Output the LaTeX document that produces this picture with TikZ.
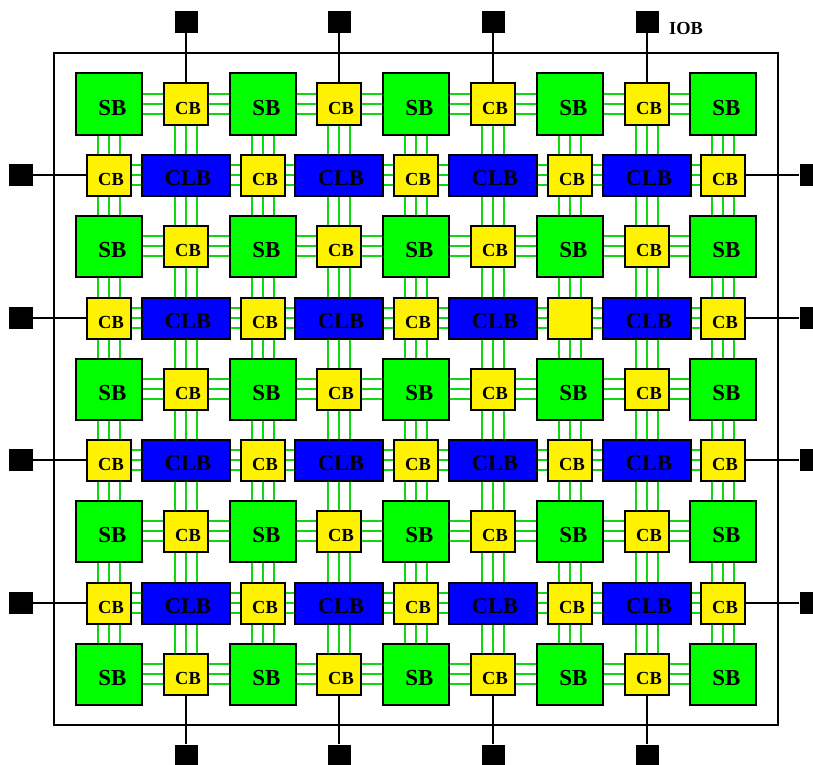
\documentclass[tikz,border=0pt]{standalone}
\usepackage{fontspec}
\setmainfont{Liberation Serif}
\definecolor{wiregreen}{RGB}{15,215,15}
\tikzset{
  box/.style={draw=black,line width=2bp,inner sep=0pt,anchor=center},
  sbbox/.style={box,fill=green,minimum width=66bp,minimum height=61bp},
  cbbox/.style={box,fill=yellow,minimum width=44bp,minimum height=41bp},
  clbbox/.style={box,fill=blue,minimum width=88bp,minimum height=41bp},
  iobbox/.style={fill=black,draw=none,inner sep=0pt,minimum width=23bp,minimum height=22bp},
  chipbox/.style={draw=black,line width=2bp,fill=none,inner sep=0pt,minimum width=724bp,minimum height=672bp},
  wire/.style={draw=wiregreen,line width=1.2bp},
  iowire/.style={draw=black,line width=1.2bp},
  sbtext/.style={font=\bfseries\fontsize{23}{24}\selectfont,inner sep=0pt},
  cbtext/.style={font=\bfseries\fontsize{18.5}{19}\selectfont,inner sep=0pt},
  clbtext/.style={font=\bfseries\fontsize{22.5}{23}\selectfont,inner sep=0pt},
  iobtext/.style={font=\bfseries\fontsize{18.5}{19}\selectfont,inner sep=0pt}
}
\newcommand{\htrip}[2]{%
  \foreach \d in {-10,0,10}{\draw[wire] ([yshift=\d bp]#1) -- ([yshift=\d bp]#2);}}
\newcommand{\vtrip}[2]{%
  \foreach \d in {-11,0,11}{\draw[wire] ([xshift=\d bp]#1) -- ([xshift=\d bp]#2);}}
\begin{document}
\begin{tikzpicture}[x=1bp,y=-1bp]
\useasboundingbox (0,0) rectangle (813,765);
\clip (0,0) rectangle (813,765);
\node[chipbox] (chip) at (416,389) {};
% switch boxes
\foreach \i/\px in {0/109,1/263,2/416,3/570,4/723}\foreach \j/\py in {0/104,1/246,2/389,3/531,4/674}{
  \node[sbbox] (s\i\j) at (\px,\py) {};
  \node[sbtext] (st\i\j) at (\px+3.5,\py+4) {SB};
}
% horizontal-row connection boxes
\foreach \i/\px in {0/186,1/339,2/493,3/647}\foreach \j/\py in {0/104,1/246,2/389,3/531,4/674}{
  \node[cbbox] (h\i\j) at (\px,\py) {};
  \node[cbtext] (ht\i\j) at (\px+2,\py+4.5) {CB};
}
% vertical-column connection boxes
\foreach \i/\px in {0/109,1/263,2/416,3/570,4/723}\foreach \j/\py in {0/175,1/318,2/460,3/603}{
  \node[cbbox] (v\i\j) at (\px,\py) {};
  \ifnum\i\j=31\else
    \node[cbtext] (vt\i\j) at (\px+2,\py+4.5) {CB};
  \fi
}
% logic blocks
\foreach \i/\px in {0/186,1/339,2/493,3/647}\foreach \j/\py in {0/175,1/318,2/460,3/603}{
  \node[clbbox] (c\i\j) at (\px,\py) {};
  \node[clbtext] (ct\i\j) at (\px+2,\py+3.5) {CLB};
}
% wires
\foreach \i/\n in {0/1,1/2,2/3,3/4}\foreach \j in {0,...,4}{
  \htrip{s\i\j.east}{h\i\j.west}
  \htrip{h\i\j.east}{s\n\j.west}
}
\foreach \j/\m in {0/1,1/2,2/3,3/4}\foreach \i in {0,...,4}{
  \vtrip{s\i\j.south}{v\i\j.north}
  \vtrip{v\i\j.south}{s\i\m.north}
}
\foreach \i/\n in {0/1,1/2,2/3,3/4}\foreach \j in {0,...,3}{
  \htrip{v\i\j.east}{c\i\j.west}
  \htrip{c\i\j.east}{v\n\j.west}
}
\foreach \j/\m in {0/1,1/2,2/3,3/4}\foreach \i in {0,...,3}{
  \vtrip{h\i\j.south}{c\i\j.north}
  \vtrip{c\i\j.south}{h\i\m.north}
}
% I/O blocks
\foreach \i/\px in {0/186,1/339,2/493,3/647}{
  \node[iobbox] (it\i) at (\px,22) {};
  \node[iobbox] (ib\i) at (\px,755.5) {};
  \draw[iowire] (it\i) -- (h\i0.north);
  \draw[iowire] (ib\i) -- (h\i4.south);
}
\foreach \j/\py in {0/175,1/318,2/460,3/603}{
  \node[iobbox] (il\j) at (21,\py) {};
  \node[iobbox] (ir\j) at (811,\py) {};
  \draw[iowire] (il\j) -- (v0\j.west);
  \draw[iowire] (ir\j) -- (v4\j.east);
}
\node[iobtext] (ioblabel) at (686,28) {IOB};
\end{tikzpicture}
\end{document}
